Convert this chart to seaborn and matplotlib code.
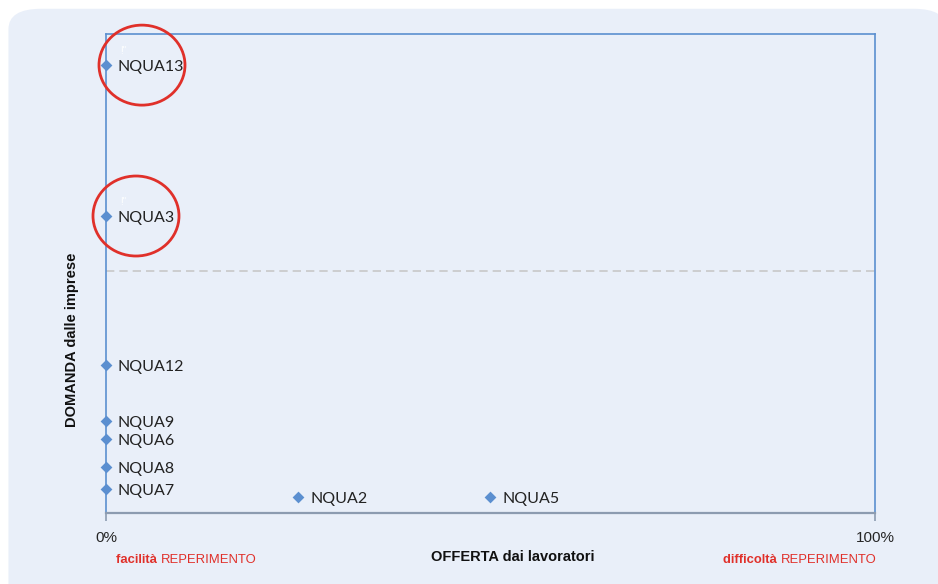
import pandas as pd
import seaborn as sns
import matplotlib.pyplot as plt
from matplotlib.patches import FancyBboxPatch, Ellipse

labels = ['NQUA13', 'NQUA3', 'NQUA12', 'NQUA9', 'NQUA6', 'NQUA8', 'NQUA7', 'NQUA2', 'NQUA5']
offerta = [0.0, 0.0, 0.0, 0.0, 0.0, 0.0, 0.0, 25.0, 50.0]
domanda = [93.5, 62.0, 30.9, 19.2, 15.4, 9.6, 5.0, 3.3, 3.3]
soglia_domanda = 50.5
cerchiati = ['NQUA13', 'NQUA3']

df = pd.DataFrame({'label': labels, 'offerta': offerta, 'domanda': domanda})

sns.set_style('white')
plt.rcParams['font.family'] = ['Liberation Sans', 'DejaVu Sans']

bg = '#e9eff9'
blue = '#5b8fd0'
red = '#e0302a'

fig = plt.figure(figsize=(9.38, 5.84), dpi=100)
fig.patch.set_facecolor('white')
fig.patches.append(FancyBboxPatch((0.009, -0.05), 1.0, 1.035, boxstyle='round,pad=0,rounding_size=0.035',
                                  transform=fig.transFigure, facecolor=bg, edgecolor='none', zorder=-10))

ax = fig.add_axes([0.113, 0.1216, 0.8198, 0.8202])
ax.set_facecolor(bg)

sns.scatterplot(data=df, x='offerta', y='domanda', marker='D', s=36, color=blue,
                edgecolor=blue, linewidth=0, ax=ax, clip_on=False, zorder=5)

for _, r in df.iterrows():
    ax.annotate(r['label'], (r['offerta'], r['domanda']), xytext=(8.5, -1.5), textcoords='offset points',
                va='center', ha='left', fontsize=11.5, family=['Lato', 'DejaVu Sans'], color='#222222')
    if r['label'] in cerchiati:
        ax.annotate('!"', (r['offerta'], r['domanda']), xytext=(10, 10), textcoords='offset points',
                    va='center', ha='left', fontsize=7, color='white')

ax.axhline(soglia_domanda, color='#c8c8c8', linestyle=(0, (5, 3)), linewidth=1.2)

ax.set_xlim(0, 100)
ax.set_ylim(0, 100)
ax.set_xticks([0, 100])
ax.set_xticklabels(['0%', '100%'], fontsize=11)
ax.set_yticks([])
ax.tick_params(axis='x', bottom=True, direction='out', length=6, width=1.2, color='#8c9bb0', pad=7)
ax.set_xlabel('')
ax.set_ylabel('')

for side in ['left', 'top', 'right']:
    ax.spines[side].set_color(blue)
    ax.spines[side].set_linewidth(1.2)
ax.spines['bottom'].set_color('#8c9bb0')
ax.spines['bottom'].set_linewidth(1.6)
ax.spines['bottom'].set_zorder(4)

# circles around the highlighted points
for lab, dx in zip(cerchiati, [36, 30]):
    i = labels.index(lab)
    disp = ax.transData.transform((offerta[i], domanda[i]))
    cx, cy = fig.transFigure.inverted().transform((disp[0] + dx, disp[1] + 0))
    fig.patches.append(Ellipse((cx, cy), 86 / 938, 80 / 584, transform=fig.transFigure,
                               facecolor='none', edgecolor=red, linewidth=2, zorder=10))

fig.text(72 / 938, 1 - 340 / 584, 'DOMANDA dalle imprese', rotation=90, ha='center', va='center',
         fontsize=10.5, fontweight='bold', color='#111111')
fig.text(513 / 938, 1 - 557 / 584, 'OFFERTA dai lavoratori', ha='center', va='center',
         fontsize=10.5, fontweight='bold', color='#111111')

t1 = fig.text(116 / 938, 1 - 560 / 584, 'facilità ', ha='left', va='center', fontsize=9.4,
              fontweight='bold', color=red)
fig.canvas.draw()
bb = t1.get_window_extent()
fig.text(bb.x1 / 938, 1 - 560 / 584, 'REPERIMENTO', ha='left', va='center', fontsize=9.4, color=red)

t2 = fig.text(723 / 938, 1 - 560 / 584, 'difficoltà ', ha='left', va='center', fontsize=9.4,
              fontweight='bold', color=red)
fig.canvas.draw()
bb = t2.get_window_extent()
fig.text(bb.x1 / 938, 1 - 560 / 584, 'REPERIMENTO', ha='left', va='center', fontsize=9.4, color=red)

plt.savefig('out.png', dpi=100, facecolor=fig.get_facecolor())
plt.close()
